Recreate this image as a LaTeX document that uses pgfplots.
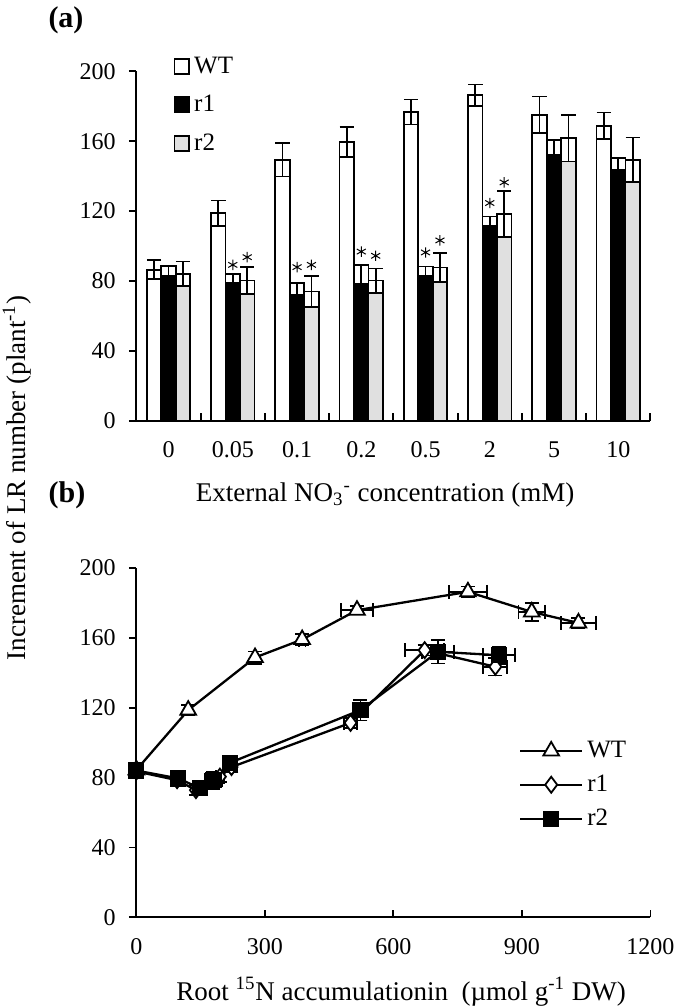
\documentclass[border=0pt]{standalone}
\usepackage{fontspec}
\setmainfont{Liberation Serif}
\usepackage{pgfplots}
\usepackage{pgfplotstable}
\pgfplotsset{compat=1.18}
\definecolor{lgray}{RGB}{224,224,224}

% panel (a): bar height v, error e
\pgfplotstableread{
i v e
0 86.4 5.5
1 118.8 7.2
2 149.4 9.6
3 159.5 8.6
4 176.7 7.1
5 186.3 6.1
6 175.2 10.4
7 168.9 7.5
}\wt
\pgfplotstableread{
i v e
0 88.4 5.8
1 84.1 5.4
2 78.7 6.7
3 89.2 10.9
4 88.3 5.4
5 116.9 5.3
6 160.9 8.6
7 150.4 6.7
}\ra
\pgfplotstableread{
i v e
0 84.1 7.0
1 80.2 7.9
2 73.9 8.8
3 80.2 6.9
4 87.7 8.1
5 118.3 13.1
6 161.8 13.4
7 149.4 12.7
}\rb

% panel (b)
\pgfplotstableread{
x y ey
0 84.4 2
121 118.6 3
277 148.7 3.5
387 159 3
515 175.8 2.5
774 186.3 3
923 174.8 5
1032 168.5 3
}\bwt
\pgfplotstableread{
x y ex
387 159 8
515 175.8 37
774 186.3 45
923 174.8 31
1032 168.5 41
}\bwtx
\pgfplotstableread{
x y ey
0 83.5 2
95 78.5 3
139 72.8 3
195 80.5 3
222 86 3
500 111.3 3
673 152.9 3
838 143.4 5
}\bra
\pgfplotstableread{
x y ex
195 80.5 10
500 111.3 15
673 152.9 45
838 143.4 28
}\brax
\pgfplotstableread{
x y ey
0 84 3
98 79.5 3
149 73.8 4
180 78.5 5
219 88.5 3
523 118.6 6
704 152 6.7
846.5 150 5
}\brb
\pgfplotstableread{
x y ex
180 78.5 20
523 118.6 15
704 152 37
846.5 150 37
}\brbx

\pgfplotsset{
  barbase/.style={ybar, bar width=0.225, draw=black, line width=0.9pt},
  boxlegend/.style={legend image code/.code={\draw[##1, line width=0.9pt] (0pt,-3.7pt) rectangle (7.4pt,3.7pt);}},
  errstyle/.style={draw=none, mark=none, forget plot},
  error bars/ebar/.style={error bar style={draw=black, solid, line width=0.9pt}},
  error bars/capA/.style={error mark options={draw=black, solid, rotate=90, line width=0.9pt, mark size=3.6pt}},
  error bars/capB/.style={error mark options={draw=black, solid, rotate=90, line width=0.9pt, mark size=3.5pt}},
  common/.style={
    scale only axis, width=257pt, height=174.7pt,
    ymin=0, ymax=200, ytick={0,40,...,200},
    axis lines*=left, axis line style={line width=1pt, -},
    xtick align=inside, ytick align=outside,
    major tick length=3.8pt,
    tick style={line width=0.9pt, black},
    /pgf/number format/assume math mode=true,
    /pgf/number format/1000 sep={},
    scaled ticks=false,
    tick label style={font=\fontsize{12}{14}\selectfont},
    yticklabel style={xshift=-3pt},
    xticklabel style={yshift=-7pt},
    label style={font=\fontsize{13.5}{15}\selectfont},
    legend cell align=left,
    legend style={draw=none, fill=none, font=\fontsize{12.5}{14}\selectfont},
    clip=false,
  },
}

\begin{document}
\begin{tikzpicture}
\useasboundingbox (-68.2pt,-44.85pt) rectangle (269.3pt,458.65pt);

\begin{axis}[common, name=A, at={(0pt,248.3pt)}, anchor=south west,
  xmin=-0.5, xmax=7.5,
  xtick={0.5,1.5,...,7.5}, xticklabels={},
  extra x ticks={0,1,2,3,4,5,6,7},
  extra x tick labels={0,0.05,0.1,0.2,0.5,2,5,10},
  extra x tick style={major tick length=0pt},
  xlabel={External NO\textsubscript{3}\textsuperscript{-} concentration (mM)},
  xlabel style={at={(axis description cs:0.484,0)}, anchor=center, yshift=-37.2pt},
  legend style={at={(axis description cs:0.06,1.066)}, anchor=north west, row sep=5.5pt},
]
% WT
\addplot[barbase, bar shift=-0.225, fill=white, forget plot] table[x=i,y=v]{\wt};
\addplot[barbase, bar shift=-0.225, fill=white, boxlegend] table[x=i,y expr=\thisrow{v}-\thisrow{e}]{\wt};
\addlegendentry{WT}
% r1
\addplot[barbase, bar shift=0, fill=white, forget plot] table[x=i,y=v]{\ra};
\addplot[barbase, bar shift=0, fill=black, boxlegend] table[x=i,y expr=\thisrow{v}-\thisrow{e}]{\ra};
\addlegendentry{r1}
% r2
\addplot[barbase, bar shift=0.225, fill=white, forget plot] table[x=i,y=v]{\rb};
\addplot[barbase, bar shift=0.225, fill=lgray, boxlegend] table[x=i,y expr=\thisrow{v}-\thisrow{e}]{\rb};
\addlegendentry{r2}
% error bars
\addplot[errstyle, error bars/.cd, y dir=both, y explicit, ebar, capA]
  table[x expr=\thisrow{i}-0.225, y=v, y error=e]{\wt};
\addplot[errstyle, error bars/.cd, y dir=minus, y explicit, ebar, capA]
  table[x=i, y=v, y error=e]{\ra};
\addplot[errstyle, error bars/.cd, y dir=both, y explicit, ebar, capA]
  table[x expr=\thisrow{i}+0.225, y=v, y error=e]{\rb};
% significance asterisks
\addplot[only marks, mark=asterisk, mark size=2.6pt, line width=0.5pt, black, forget plot]
  coordinates {(1,89.2) (2,87.9) (3,96.8) (4,96.3) (5,124.6)};
\addplot[only marks, mark=asterisk, mark size=2.6pt, line width=0.5pt, black, forget plot]
  coordinates {(1.225,93.6) (2.225,89.2) (3.225,94.4) (4.225,103.2) (5.225,136.4)};
\end{axis}

\begin{axis}[common, name=B, at={(0pt,0pt)}, anchor=south west,
  xmin=0, xmax=1200, xtick={0,300,...,1200},
  xlabel={Root \textsuperscript{15}N accumulationin\ \ (µmol g\textsuperscript{-1} DW)},
  xlabel style={at={(axis description cs:0.515,0)}, anchor=center, yshift=-37.2pt},
  legend style={at={(axis description cs:0.732,0.528)}, anchor=north west, row sep=3.2pt},
  legend image code/.code={\draw[mark repeat=2, mark phase=2, #1] plot coordinates {(0pt,0pt) (15.5pt,0pt) (31pt,0pt)};},
]
\addplot[errstyle, error bars/.cd, x dir=both, x explicit, ebar, capB]
  table[x=x, y=y, x error=ex]{\bwtx};
\addplot[errstyle, error bars/.cd, x dir=both, x explicit, ebar, capB]
  table[x=x, y=y, x error=ex]{\brax};
\addplot[errstyle, error bars/.cd, x dir=both, x explicit, ebar, capB]
  table[x=x, y=y, x error=ex]{\brbx};

\addplot[black, line width=1.15pt, mark=triangle*, mark size=4.5pt, mark options={fill=white, line width=0.9pt},
  error bars/.cd, y dir=both, y explicit, ebar, capB]
  table[x=x, y=y, y error=ey]{\bwt};
\addlegendentry{WT}
\addplot[black, line width=1.15pt, mark=diamond*, mark size=4pt, mark options={fill=white, line width=0.9pt},
  error bars/.cd, y dir=both, y explicit, ebar, capB]
  table[x=x, y=y, y error=ey]{\bra};
\addlegendentry{r1}
\addplot[black, line width=1.15pt, mark=square*, mark size=3.6pt, mark options={fill=black, line width=0.9pt},
  error bars/.cd, y dir=both, y explicit, ebar, capB]
  table[x=x, y=y, y error=ey]{\brb};
\addlegendentry{r2}
\end{axis}

\node[font=\fontsize{15}{17}\selectfont\bfseries] at (-35.2pt,448.65pt) {(a)};
\node[font=\fontsize{15}{17}\selectfont\bfseries] at (-34.7pt,211.15pt) {(b)};
\node[rotate=90, font=\fontsize{13.5}{15}\selectfont] at (-59.7pt,219.65pt) {Increment of LR number (plant\textsuperscript{-1})};
\end{tikzpicture}
\end{document}
